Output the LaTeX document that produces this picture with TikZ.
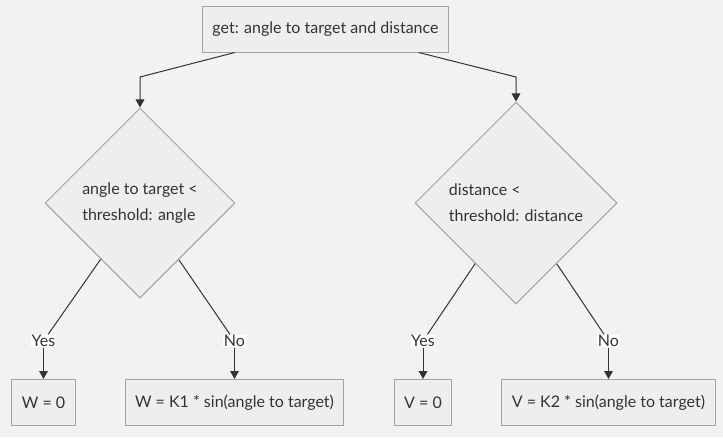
\documentclass[tikz,border=0pt]{standalone}
\usepackage{fontspec}
\setmainfont{Lato}
\usepackage{tikz}
\usetikzlibrary{shapes.geometric,arrows.meta}
\definecolor{canvas}{HTML}{F2F2F2}
\definecolor{boxfill}{HTML}{EEEEEE}
\definecolor{boxline}{HTML}{A3A3A3}
\definecolor{ink}{HTML}{333333}
\tikzset{
  txt/.style={text=ink, font=\fontsize{12}{19.5}\selectfont},
  procbox/.style={txt, draw=boxline, fill=boxfill, line width=0.75pt, inner xsep=7.5pt, minimum height=34.5pt},
  decision/.style={txt, diamond, aspect=1, draw=boxline, fill=boxfill, line width=0.75pt, align=left, inner sep=0pt},
  edgelab/.style={txt, fill=white, inner sep=0.5pt},
  plainline/.style={draw=ink, line width=0.75pt},
  flowline/.style={plainline, -{Triangle[length=6pt,width=6.5pt]}},
}
\begin{document}
\begin{tikzpicture}[x=0.75pt, y=-0.75pt]
\useasboundingbox[fill=canvas] (0,0) rectangle (723,437);

\node[procbox] (get) at (325.5,29) {get: angle to target and distance};
\node[decision, minimum width=142.5pt, minimum height=142.5pt] (ang) at (140,203)
  {angle to target <\\threshold: angle};
\node[decision, minimum width=151.5pt, minimum height=151.5pt] (dist) at (516,203)
  {distance <\\threshold: distance};
\node[procbox] (w0) at (43.5,402.5) {W = 0};
\node[procbox] (wk) at (234.5,402.5) {W = K1 * sin(angle to target)};
\node[procbox] (v0) at (423,402.5) {V = 0};
\node[procbox] (vk) at (608.5,402.5) {V = K2 * sin(angle to target)};

\coordinate (b1) at (140,77);
\coordinate (b2) at (516,77);
\draw[flowline] (get) -- (b1) -- (ang);
\draw[flowline] (get) -- (b2) -- (dist);

\node[edgelab] (yes1) at (43.5,341) {Yes};
\node[edgelab] (no1) at (234.5,341) {No};
\node[edgelab] (yes2) at (423,341) {Yes};
\node[edgelab] (no2) at (608.5,341) {No};

\draw[plainline] (ang) -- (yes1);
\draw[flowline] (yes1) -- (w0);
\draw[plainline] (ang) -- (no1);
\draw[flowline] (no1) -- (wk);
\draw[plainline] (dist) -- (yes2);
\draw[flowline] (yes2) -- (v0);
\draw[plainline] (dist) -- (no2);
\draw[flowline] (no2) -- (vk);
\end{tikzpicture}
\end{document}
